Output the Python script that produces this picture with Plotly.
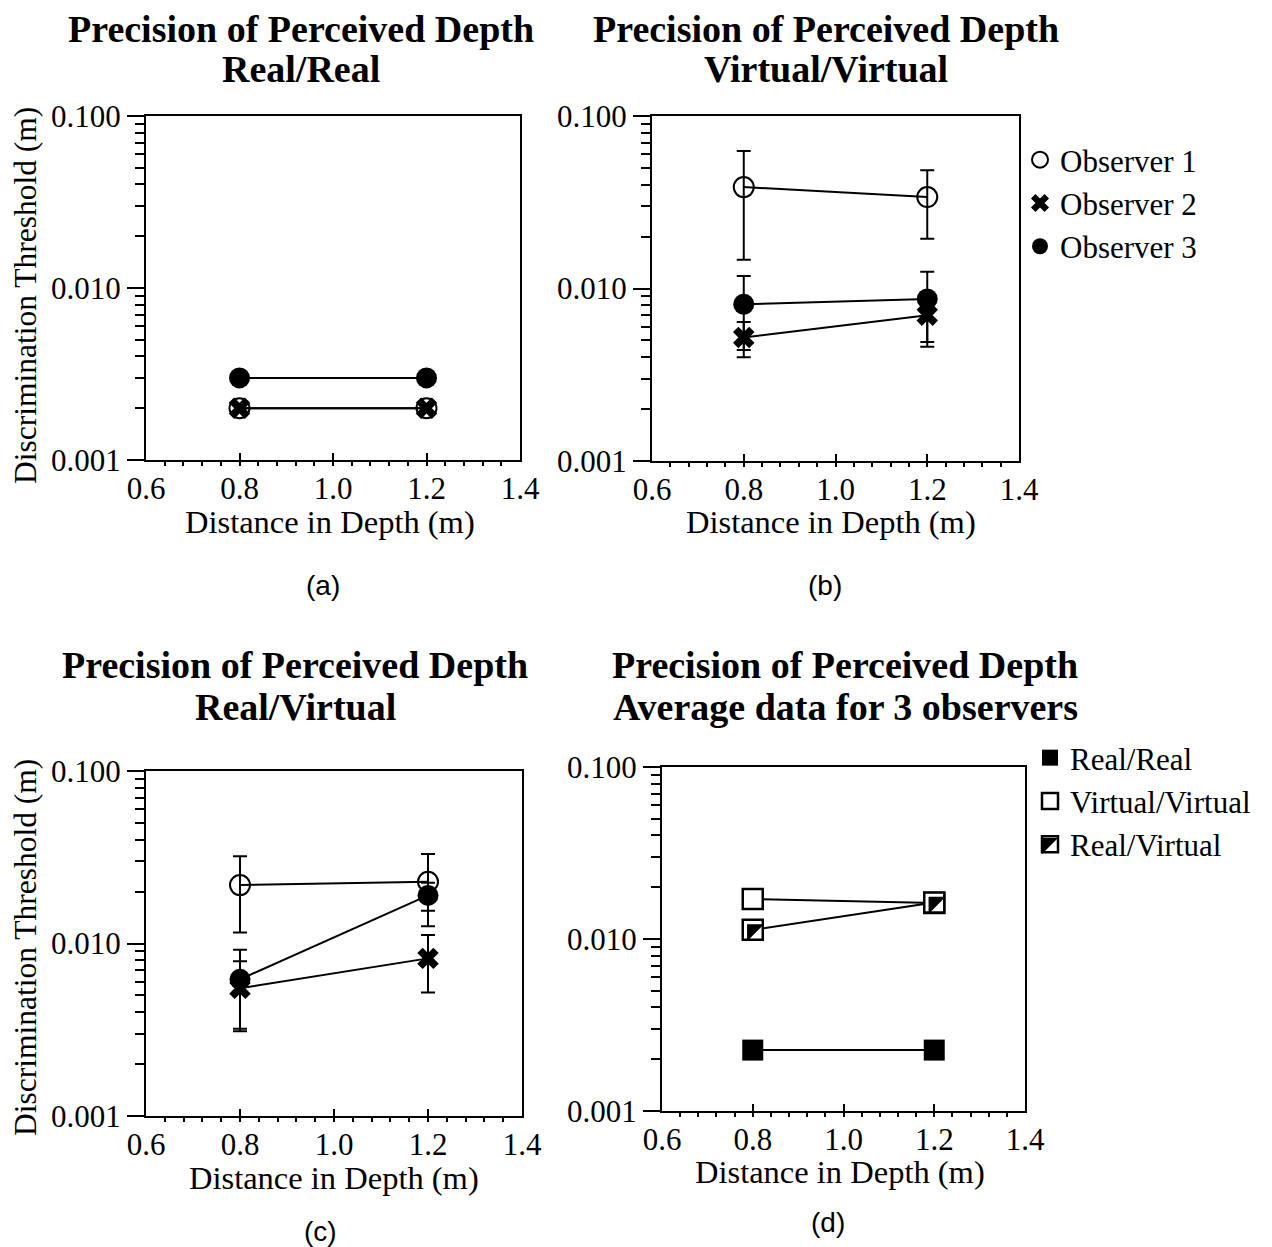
import plotly.graph_objects as go

# ---------------- data ----------------
distance = [0.8, 1.2]

# (a) Real/Real
rr_obs1 = [0.0020, 0.0020]
rr_obs2 = [0.0020, 0.0020]
rr_obs3 = [0.0030, 0.0030]

# (b) Virtual/Virtual
vv_obs1 = [0.0387, 0.0339]
vv_obs1_err = [0.0240, 0.0145]
vv_obs2 = [0.0052, 0.0070]
vv_obs2_err = [0.0012, 0.0024]
vv_obs3 = [0.0081, 0.0087]
vv_obs3_err = [0.0037, 0.0038]

# (c) Real/Virtual
rv_obs1 = [0.0218, 0.0228]
rv_obs1_err = [0.0102, 0.0102]
rv_obs2 = [0.0055, 0.0082]
rv_obs2_err = [0.0024, 0.0030]
rv_obs3 = [0.0062, 0.0190]
rv_obs3_err = [0.0030, 0.0035]

# (d) averages
avg_rr = [0.00226, 0.00226]
avg_vv = [0.0171, 0.0162]
avg_rv = [0.0113, 0.0163]

x_ticks = [0.6, 0.8, 1.0, 1.2, 1.4]
x_ticklabels = ["0.6", "0.8", "1.0", "1.2", "1.4"]
y_ticks = [0.001, 0.010, 0.100]
y_ticklabels = ["0.001", "0.010", "0.100"]

panel_titles = [
    ("Precision of Perceived Depth", "Real/Real"),
    ("Precision of Perceived Depth", "Virtual/Virtual"),
    ("Precision of Perceived Depth", "Real/Virtual"),
    ("Precision of Perceived Depth", "Average data for 3 observers"),
]
panel_letters = ["(a)", "(b)", "(c)", "(d)"]
x_title = "Distance in Depth (m)"
y_title = "Discrimination Threshold (m)"
observer_names = ["Observer 1", "Observer 2", "Observer 3"]
condition_names = ["Real/Real", "Virtual/Virtual", "Real/Virtual"]

# ---------------- layout helpers ----------------
OFF = 8  # default page body margin
W, H = 1272 - OFF, 1247 - OFF
SERIF = "Liberation Serif"
SANS = "Liberation Sans"


def fx(p):
    return (p - OFF) / W


def fy(p):
    return 1 - (p - OFF) / H


boxes = {
    1: (146, 520, 116, 460),
    2: (652, 1019, 116, 461),
    3: (146, 522, 771, 1116),
    4: (662, 1025, 767, 1111),
}

fig = go.Figure()

obs_styles = [
    dict(symbol="circle-open", size=20, color="black", line=dict(width=2, color="black")),
    dict(symbol="x", size=19, color="black", line=dict(width=0)),
    dict(symbol="circle", size=21, color="black", line=dict(width=0)),
]


def add_series(k, y, style, err=None, name=None):
    kw = {}
    if err is not None:
        kw["error_y"] = dict(type="data", array=err, visible=True, color="black",
                             thickness=2, width=7)
    fig.add_trace(go.Scatter(
        x=distance, y=y, mode="lines+markers",
        line=dict(color="black", width=2),
        marker=style, showlegend=False, name=name,
        xaxis=f"x{k if k > 1 else ''}", yaxis=f"y{k if k > 1 else ''}", **kw))


# (a)
add_series(1, rr_obs2, obs_styles[1], name=observer_names[1])
add_series(1, rr_obs1, obs_styles[0], name=observer_names[0])
add_series(1, rr_obs3, obs_styles[2], name=observer_names[2])
# (b)
add_series(2, vv_obs1, obs_styles[0], vv_obs1_err, observer_names[0])
add_series(2, vv_obs2, obs_styles[1], vv_obs2_err, observer_names[1])
add_series(2, vv_obs3, obs_styles[2], vv_obs3_err, observer_names[2])
# (c)
add_series(3, rv_obs1, obs_styles[0], rv_obs1_err, observer_names[0])
add_series(3, rv_obs2, obs_styles[1], rv_obs2_err, observer_names[1])
add_series(3, rv_obs3, obs_styles[2], rv_obs3_err, observer_names[2])
# (d)
sq_filled = dict(symbol="square", size=21, color="black", line=dict(width=0))
sq_open = dict(symbol="square", size=20, color="white", line=dict(width=2.5, color="black"))
sq_clear = dict(symbol="square", size=20, color="rgba(0,0,0,0)", line=dict(width=2.5, color="black"))
tri = dict(symbol="triangle-nw", size=19, color="black", line=dict(width=0))
add_series(4, avg_rr, sq_filled, name=condition_names[0])
add_series(4, avg_vv, sq_open, name=condition_names[1])
add_series(4, avg_rv, sq_open, name=condition_names[2])
fig.add_trace(go.Scatter(x=distance, y=avg_rv, mode="markers", marker=tri,
                         showlegend=False, xaxis="x4", yaxis="y4"))

# legend-only entries
for name, st in zip(observer_names, obs_styles):
    fig.add_trace(go.Scatter(x=[None], y=[None], mode="markers", marker=st, name=name,
                             legend="legend", legendgroup=name, xaxis="x2", yaxis="y2"))
for name, st in zip(condition_names, [sq_filled, sq_open, sq_clear]):
    fig.add_trace(go.Scatter(x=[None], y=[None], mode="markers", marker=st, name=name,
                             legend="legend2", legendgroup=name, xaxis="x4", yaxis="y4"))

LEG2_X, LEG2_Y = 1030, 731

layout = dict(
    width=W, height=H, autosize=False,
    margin=dict(l=0, r=0, t=0, b=0, pad=0),
    paper_bgcolor="white", plot_bgcolor="white",
    font=dict(family=SERIF, size=31, color="black"),
    legend=dict(x=fx(1020), y=fy(133), xanchor="left", yanchor="top",
                font=dict(family=SERIF, size=31, color="black"),
                bgcolor="rgba(0,0,0,0)", tracegroupgap=0, itemwidth=30),
    legend2=dict(x=fx(LEG2_X), y=fy(LEG2_Y), xanchor="left", yanchor="top",
                 font=dict(family=SERIF, size=31, color="black"),
                 bgcolor="rgba(0,0,0,0)", tracegroupgap=0, itemwidth=30),
)

for k, (x0, x1, y0, y1) in boxes.items():
    sfx = "" if k == 1 else str(k)
    layout[f"xaxis{sfx}"] = dict(
        domain=[fx(x0), fx(x1)], range=[0.6, 1.4], anchor=f"y{sfx}",
        tickvals=x_ticks, ticktext=x_ticklabels, automargin=False,
        ticks="inside", ticklen=7, tickwidth=2, tickcolor="black",
        showline=True, linecolor="black", linewidth=2, mirror=True,
        showgrid=False, zeroline=False, ticklabelstandoff=0,
        tickfont=dict(family=SERIF, size=31, color="black"),
        minor=dict(dtick=0.04, tick0=0.6, ticks="outside", ticklen=4,
                   tickwidth=1.5, tickcolor="black", showgrid=False),
    )
    layout[f"yaxis{sfx}"] = dict(
        domain=[fy(y1), fy(y0)], type="log", range=[-3, -1], anchor=f"x{sfx}",
        tickvals=y_ticks, ticktext=y_ticklabels, automargin=False,
        ticks="outside", ticklen=17, tickwidth=2, tickcolor="black",
        showline=True, linecolor="black", linewidth=2, mirror=True,
        showgrid=False, zeroline=False,
        tickfont=dict(family=SERIF, size=31, color="black"),
        minor=dict(dtick="D1", ticks="outside", ticklen=9, tickwidth=1.5,
                   tickcolor="black", showgrid=False),
    )

fig.update_layout(**layout)

# half-filled key for the Real/Virtual legend entry (third row of legend2)
kx, ky, hs = LEG2_X + 20, LEG2_Y + 115, 8
fig.add_shape(type="path", xref="paper", yref="paper", layer="above",
              path=(f"M {fx(kx - hs)},{fy(ky - hs)} L {fx(kx + hs)},{fy(ky - hs)} "
                    f"L {fx(kx - hs)},{fy(ky + hs)} Z"),
              fillcolor="black", line=dict(width=0))

ann = []
title_pos = {1: (301, 29, 69), 2: (826, 29, 69), 3: (295, 665, 707), 4: (845, 665, 707)}
for k, (l1, l2) in enumerate(panel_titles, start=1):
    cx, ya, yb = title_pos[k]
    for txt, yy in ((l1, ya), (l2, yb)):
        ann.append(dict(text=f"<b>{txt}</b>", x=fx(cx), y=fy(yy), xref="paper", yref="paper",
                        xanchor="center", yanchor="middle", showarrow=False,
                        font=dict(family=SERIF, size=38, color="black")))

xt_pos = {1: (330, 522), 2: (831, 522), 3: (334, 1178), 4: (840, 1172)}
for k, (cx, cy) in xt_pos.items():
    ann.append(dict(text=x_title, x=fx(cx), y=fy(cy), xref="paper", yref="paper",
                    xanchor="center", yanchor="middle", showarrow=False,
                    font=dict(family=SERIF, size=32.5, color="black")))

for cy in (296, 948):
    ann.append(dict(text=y_title, x=fx(25), y=fy(cy), xref="paper", yref="paper",
                    xanchor="center", yanchor="middle", showarrow=False, textangle=-90,
                    font=dict(family=SERIF, size=31.5, color="black")))

lt_pos = [(323, 585), (825, 585), (320, 1231), (828, 1222)]
for txt, (cx, cy) in zip(panel_letters, lt_pos):
    ann.append(dict(text=txt, x=fx(cx), y=fy(cy), xref="paper", yref="paper",
                    xanchor="center", yanchor="middle", showarrow=False,
                    font=dict(family=SANS, size=28, color="black")))

fig.update_layout(annotations=ann)

fig.write_html("out.html")
